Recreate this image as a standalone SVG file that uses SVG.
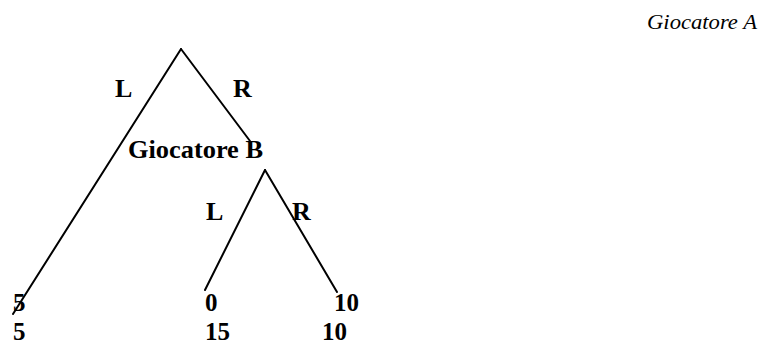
<svg xmlns="http://www.w3.org/2000/svg" width="770" height="345" viewBox="0 0 770 345">
  <style>
    .edge { stroke: #000; stroke-width: 2; fill: none; stroke-linecap: round; }
    .lbl { font-family: "Liberation Serif", "Times New Roman", serif; font-weight: bold; font-size: 26px; fill: #000; }
    .num { font-family: "Liberation Serif", "Times New Roman", serif; font-weight: bold; font-size: 25px; fill: #000; }
    .script { font-family: "Liberation Serif", "Times New Roman", serif; font-style: italic; font-size: 22px; fill: #000; }
  </style>
  <rect width="770" height="345" fill="#fff"/>

  <!-- branches of the game tree -->
  <g id="connectors">
    <line class="edge" x1="181" y1="49" x2="13" y2="314"/>
    <line class="edge" x1="181" y1="49" x2="250" y2="141"/>
    <line class="edge" x1="265" y1="170" x2="205" y2="290"/>
    <line class="edge" x1="265" y1="170" x2="337" y2="292"/>
  </g>

  <g id="playerA">
    <text class="script" x="647" y="29" textLength="110" lengthAdjust="spacingAndGlyphs">Giocatore A</text>
  </g>

  <g id="root-moves">
    <text class="lbl" x="115" y="97">L</text>
    <text class="lbl" x="233" y="97">R</text>
  </g>

  <g id="playerB">
    <text class="lbl" x="128" y="158" textLength="135" lengthAdjust="spacingAndGlyphs">Giocatore B</text>
    <text class="lbl" x="206" y="220">L</text>
    <text class="lbl" x="292" y="220">R</text>
  </g>

  <!-- payoffs: first row player A, second row player B -->
  <g id="payoff-LL">
    <text class="num" x="13" y="311">5</text>
    <text class="num" x="13" y="339.5">5</text>
  </g>
  <g id="payoff-RL">
    <text class="num" x="205" y="311">0</text>
    <text class="num" x="205" y="339.5">15</text>
  </g>
  <g id="payoff-RR">
    <text class="num" x="334" y="311">10</text>
    <text class="num" x="322" y="339.5">10</text>
  </g>
</svg>
